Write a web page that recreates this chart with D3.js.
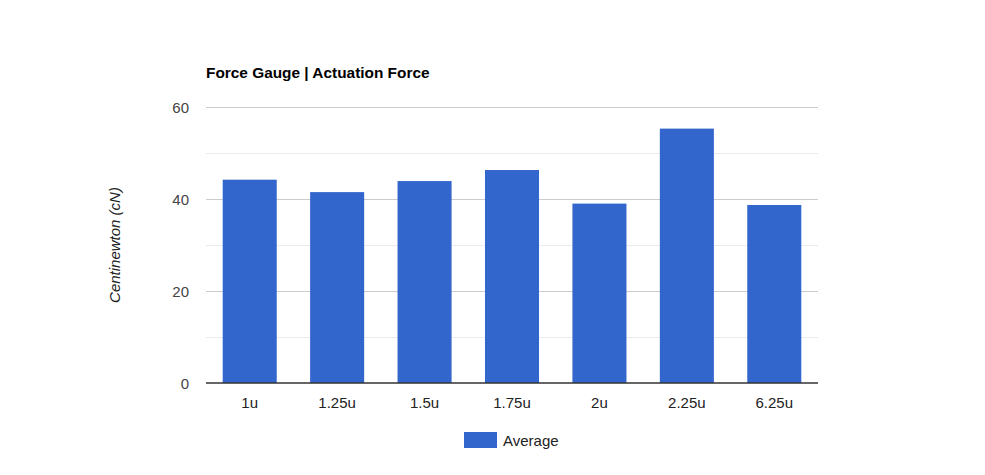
<!DOCTYPE html>
<html><head><meta charset="utf-8">
<script src="https://cdn.jsdelivr.net/npm/d3@7"></script>
<style>body{margin:0;background:#fff}svg{display:block}text{font-family:"Liberation Sans",Arial,sans-serif}</style>
</head><body>
<svg id="chart" width="985" height="475"></svg>
<script>
const categories = ["1u","1.25u","1.5u","1.75u","2u","2.25u","6.25u"];
const averageValues = [44.2, 41.5, 43.9, 46.3, 39.0, 55.3, 38.7];
const majorTicks = [0, 20, 40, 60];
const minorTicks = [10, 30, 50];
const seriesName = "Average";
const chartTitle = "Force Gauge | Actuation Force";
const yTitle = "Centinewton (cN)";

const svg = d3.select("#chart");
const m = {left: 206, right: 818, top: 107, bottom: 383};
const x = d3.scaleBand().domain(categories).range([m.left, m.right]).paddingInner(0.382).paddingOuter(0.191);
const y = d3.scaleLinear().domain([0, 60]).range([m.bottom, m.top]);

svg.append("text").attr("x", m.left).attr("y", 78).attr("font-size", 15.4).attr("font-weight", "bold").attr("fill", "#000").text(chartTitle);

svg.append("g").selectAll("line").data(minorTicks).join("line")
  .attr("x1", m.left).attr("x2", m.right).attr("y1", d => Math.round(y(d)) + 0.5).attr("y2", d => Math.round(y(d)) + 0.5)
  .attr("stroke", "#ebebeb");
svg.append("g").selectAll("line").data(majorTicks.filter(d => d !== 0)).join("line")
  .attr("x1", m.left).attr("x2", m.right).attr("y1", d => Math.round(y(d)) + 0.5).attr("y2", d => Math.round(y(d)) + 0.5)
  .attr("stroke", "#cccccc");

svg.append("g").selectAll("text").data(majorTicks).join("text")
  .attr("x", 189).attr("y", d => y(d) + 5.5).attr("text-anchor", "end").attr("font-size", 15).attr("fill", "#444")
  .text(d => d);

svg.append("g").selectAll("rect").data(averageValues).join("rect")
  .attr("x", (d, i) => x(categories[i])).attr("width", x.bandwidth())
  .attr("y", d => y(d)).attr("height", d => y(0) - y(d)).attr("fill", "#3366cc");

svg.append("line").attr("x1", m.left).attr("x2", m.right).attr("y1", y(0)).attr("y2", y(0)).attr("stroke", "#333").attr("stroke-width", 1.5);

svg.append("g").selectAll("text").data(categories).join("text")
  .attr("x", d => x(d) + x.bandwidth() / 2).attr("y", 408).attr("text-anchor", "middle").attr("font-size", 15).attr("fill", "#222")
  .text(d => d);

svg.append("text").attr("transform", `translate(120,${(m.top + m.bottom) / 2}) rotate(-90)`).attr("text-anchor", "middle")
  .attr("font-size", 15).attr("font-style", "italic").attr("fill", "#222").text(yTitle);

svg.append("rect").attr("x", 464).attr("y", 432).attr("width", 33).attr("height", 16).attr("fill", "#3366cc");
svg.append("text").attr("x", 503).attr("y", 446).attr("font-size", 15).attr("fill", "#222").text(seriesName);
</script>
</body></html>
